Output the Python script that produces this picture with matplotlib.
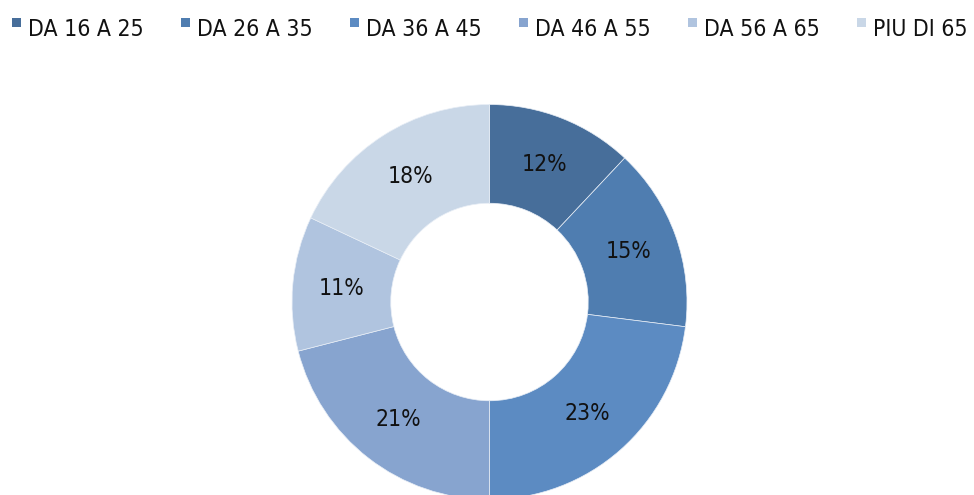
import matplotlib
matplotlib.use("Agg")
import matplotlib.pyplot as plt
from matplotlib.patches import Rectangle

categories = ["DA 16 A 25", "DA 26 A 35", "DA 36 A 45", "DA 46 A 55", "DA 56 A 65", "PIU DI 65"]
values = [12, 15, 23, 21, 11, 18]
colors = ["#476E9A", "#4F7DB0", "#5C8BC2", "#87A4CF", "#B0C4DF", "#C9D7E7"]

plt.rcParams['font.family'] = ['DejaVu Sans']
plt.rcParams['font.stretch'] = 'condensed'

W, H = 974, 495
fig = plt.figure(figsize=(W / 100, H / 100), dpi=100)

cx, cy_top, R = 489.5, 302, 197.5
cy = H - cy_top
ax = fig.add_axes([(cx - R) / W, (cy - R) / H, 2 * R / W, 2 * R / H])
wedges, texts, autotexts = ax.pie(
    values, colors=colors, startangle=90, counterclock=False, radius=1,
    wedgeprops=dict(width=0.5, edgecolor="#E8EEF6", linewidth=0.5),
    autopct=lambda p: f"{p:.0f}%", pctdistance=0.75,
    textprops=dict(fontsize=16.5, color="#111111", fontstretch="condensed"))
ax.set_xlim(-1, 1)
ax.set_ylim(-1, 1)
ax.axis("off")

# legend
x0, step, ly = 12, 169, 29
for i, (lab, col) in enumerate(zip(categories, colors)):
    x = x0 + i * step
    fig.patches.append(Rectangle((x / W, (H - 27) / H), 9 / W, 9 / H,
                                 transform=fig.transFigure, facecolor=col, edgecolor="none"))
    fig.text((x + 16) / W, (H - ly) / H, lab, fontsize=16.5, color="#111111",
             va="center", ha="left", fontstretch="condensed")

fig.savefig("out.png", dpi=100)
